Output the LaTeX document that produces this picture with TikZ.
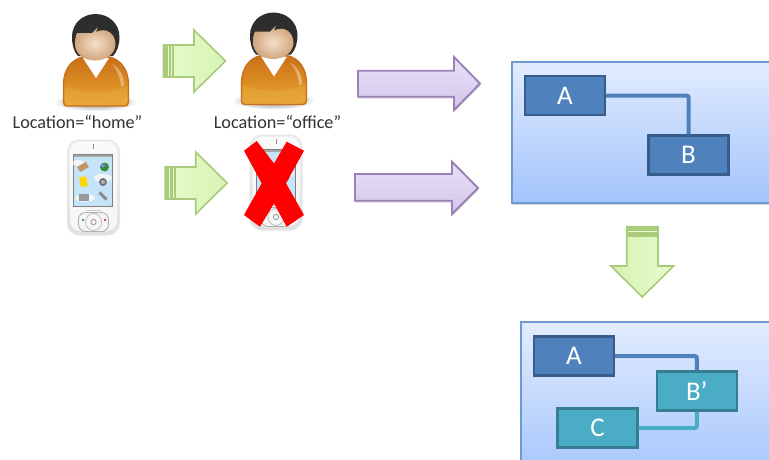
\documentclass[tikz,border=0pt]{standalone}
\usepackage{fontspec}
\setmainfont{Carlito}
\usetikzlibrary{shadows}
\definecolor{panelline}{HTML}{6F9AD0}
\definecolor{paneltop}{HTML}{E2ECFE}
\definecolor{panelbot}{HTML}{A3C4FC}
\definecolor{bluefill}{HTML}{4F81BD}
\definecolor{blueline}{HTML}{385D8A}
\definecolor{tealfill}{HTML}{4BACC6}
\definecolor{tealline}{HTML}{357D91}
\definecolor{greenline}{HTML}{A9CB7B}
\definecolor{greenlight}{HTML}{E6FBCB}
\definecolor{greenmid}{HTML}{D6F3B4}
\definecolor{purpleline}{HTML}{9A82B8}
\definecolor{purplelight}{HTML}{E9E1F6}
\definecolor{purplemid}{HTML}{D3C5EA}
\definecolor{orangedark}{HTML}{C9701A}
\definecolor{orangemain}{HTML}{DA8A22}
\definecolor{orangelight}{HTML}{E9A93A}
\definecolor{skin}{HTML}{F0D2B2}
\definecolor{skindark}{HTML}{D2A67F}
\definecolor{hair}{HTML}{2E2E2E}
\definecolor{sky}{HTML}{C6E4F7}
\tikzset{
  panel/.style={draw=panelline,line width=1.8pt,top color=paneltop,bottom color=panelbot,
    rectangle,anchor=north west,inner sep=0pt,
    drop shadow={opacity=.3,shadow xshift=.5pt,shadow yshift=-2pt}},
  blockbase/.style={rectangle,line width=2.2pt,text=white,font=\fontsize{27}{29}\selectfont,
    minimum width=80pt,minimum height=39pt,inner sep=0pt},
  blueblock/.style={blockbase,draw=blueline,fill=bluefill},
  tealblock/.style={blockbase,draw=tealline,fill=tealfill},
  bluelink/.style={draw=bluefill,line width=4pt,rounded corners=2pt},
  teallink/.style={draw=tealfill,line width=4pt,rounded corners=2pt},
  greenarrow/.style={draw=greenline,line width=1.6pt,line join=miter,left color=greenlight,right color=greenmid},
  greenarrowv/.style={draw=greenline,line width=1.6pt,line join=miter,left color=greenmid,right color=greenlight},
  purplearrow/.style={draw=purpleline,line width=1.9pt,line join=miter,top color=purplelight,bottom color=purplemid,
    drop shadow={opacity=.3,shadow xshift=.5pt,shadow yshift=-2pt}},
  caption/.style={text=black!80,font=\fontsize{18.2}{20}\selectfont,inner sep=0pt},
}
\newcommand{\personicon}{%
  \shade[inner color=black!55,outer color=white] (95.5,102) ellipse (42 and 9);
  \draw[draw=orangedark,line width=1.4pt,top color=orangedark,bottom color=orangelight,middle color=orangemain]
    (83,57) .. controls (70,60) and (63.5,71) .. (63.5,85) -- (63.5,102)
    .. controls (63.5,105) and (65,106) .. (67,106) -- (124,106)
    .. controls (127,106) and (128.5,105) .. (128.5,102) -- (128.5,85)
    .. controls (128.5,71) and (122,60) .. (109,57) -- cycle;
  \fill[orangelight,opacity=.55] (65,87) .. controls (85,94) and (107,94) .. (127,87) -- (127,102) -- (65,104) -- cycle;
  \fill[white,opacity=.35] (112,64) .. controls (120,68) and (124,76) .. (124,86) -- (121,86) .. controls (120,76) and (117,70) .. (112,64) -- cycle;
  \fill[white] (83,58) -- (96,78) -- (109,58) -- cycle;
  \fill[hair] (72,37) .. controls (72,23) and (83,14) .. (95.5,14)
    .. controls (108,14) and (119.5,23) .. (119.5,37) .. controls (119.5,45) and (117,52) .. (113,56)
    -- (78,56) .. controls (74,52) and (72,45) .. (72,37) -- cycle;
  \shade[inner color=skin!70!white,outer color=skindark] (75,44)
    .. controls (75,40) and (75.5,36) .. (77,33) -- (92,33) -- (98,27) -- (96,32)
    .. controls (106,27) and (115,33) .. (115.5,44)
    .. controls (115.5,54) and (106,60.5) .. (95,60.5)
    .. controls (84,60.5) and (75,54) .. (75,44) -- cycle;
}
\newcommand{\phoneicon}{%
  \shade[top color=black!6,bottom color=black!12,draw=black!10,line width=1pt,rounded corners=12pt]
    (67.5,140) rectangle (119.5,235);
  \fill[white,opacity=.7,rounded corners=10pt] (70,142) rectangle (117,231);
  \draw[black!45,line width=.9pt] (93.5,144) -- (93.5,149);
  \fill[sky,draw=black!50,line width=1pt] (73.5,154) rectangle (112.5,206);
  \fill[black!35] (74,154.5) rectangle (112,156.5);
  \fill[white,opacity=.7] (78,163) ellipse (6 and 3);
  \fill[white,opacity=.7] (103,178) ellipse (9 and 4);
  \fill[white,opacity=.7] (85,198) ellipse (10 and 4);
  \fill[orange!60!black!60!white,rotate around={30:(83,167)}] (78,164) rectangle (88,170);
  \fill[green!45!black!80!white] (104.5,167) circle (4.5);
  \fill[blue!50!white] (103,165.5) circle (2);
  \fill[yellow!75!orange] (79,177) -- (86,176.5) -- (88,186) -- (81,187) -- cycle;
  \fill[black!55] (103,182) circle (4);
  \fill[black!30] (103,182) circle (2);
  \fill[black!40] (79,194) rectangle (89,201);
  \fill[black!45,rotate around={-45:(103,196)}] (98,194.5) rectangle (108,197.5);
  \fill[black!20] (86,209.5) rectangle (101,210.5);
  \draw[black!30,fill=black!4,line width=.9pt,rounded corners=7pt] (78.5,212.5) rectangle (108.5,231.5);
  \draw[black!25,fill=black!3,line width=.8pt] (93.5,222) ellipse (8 and 8.5);
  \draw[black!40,fill=black!4,line width=.8pt] (93.5,222) circle (2.7);
  \fill[green!50!black!70!white] (81.5,219) rectangle (83.5,220.5);
  \fill[red!70!black!70!white] (103.5,219) rectangle (105.5,220.5);
}
\newcommand{\greenarrowicon}{%
  \path[greenarrow] (163.5,45) -- (194,45) -- (194,30) -- (225.5,61) -- (194,92) -- (194,77) -- (163.5,77) -- cycle;
  \fill[greenline] (164,45.6) rectangle (174,76.4);
  \fill[greenlight] (167.5,46) rectangle (168.7,76);
  \fill[greenlight] (171,46) rectangle (172,76);
}
\begin{document}
\begin{tikzpicture}[x=1pt,y=-1pt]
\clip (0,0) rectangle (769,459);
\fill[white] (0,0) rectangle (769,459);
% people
\personicon
\begin{scope}[xshift=178pt,yshift=1.5pt]\personicon\end{scope}
\node[caption] (home) at (77.5,122) {Location=“home”};
\node[caption] (office) at (277.5,122) {Location=“office”};
% phones
\phoneicon
\begin{scope}[xshift=182.5pt,yshift=5pt]\phoneicon\end{scope}
\fill[red] (256.7,141) -- (274,163.5) -- (286.7,141.7) -- (304,150.7) -- (286,183.3) -- (304,215) -- (286.7,226.7) -- (274,203.5) -- (260,226.7) -- (244,215) -- (261.7,183.3) -- (244,150.7) -- cycle;
% green arrows
\greenarrowicon
\begin{scope}[xshift=1.7pt,yshift=-122pt]\greenarrowicon\end{scope}
% purple arrows
\path[purplearrow] (358,70.7) -- (454,70.7) -- (454,57) -- (480,83.5) -- (454,110) -- (454,96.7) -- (358,96.7) -- cycle;
\path[purplearrow] (355,174) -- (452,174) -- (452,161.7) -- (478,188) -- (452,214) -- (452,200.7) -- (355,200.7) -- cycle;
% upper panel
\node[panel,minimum width=290pt,minimum height=141pt] (panelone) at (510.8,60.8) {};
\node[blueblock] (aone) at (565,95.5) {A};
\node[blueblock] (bone) at (688.5,155) {B};
\draw[bluelink] (aone.east) -| (bone.north);
% down arrow
\path[greenarrowv] (626.7,226.7) -- (658,226.7) -- (658,266) -- (673.5,266) -- (642.3,297) -- (611,266) -- (626.7,266) -- cycle;
\fill[greenline] (627.2,227.2) rectangle (657.5,236.5);
\fill[greenlight] (627.5,231) rectangle (657,232.2);
% lower panel
\node[panel,minimum width=280pt,minimum height=160pt] (paneltwo) at (519.8,321.4) {};
\node[blueblock] (atwo) at (574,356) {A};
\node[tealblock] (btwo) at (696.75,391) {B’};
\node[tealblock] (ctwo) at (597.5,428) {C};
\draw[bluelink] (atwo.east) -| (btwo.north);
\draw[teallink] (ctwo.east) -| (btwo.south);
\end{tikzpicture}
\end{document}
